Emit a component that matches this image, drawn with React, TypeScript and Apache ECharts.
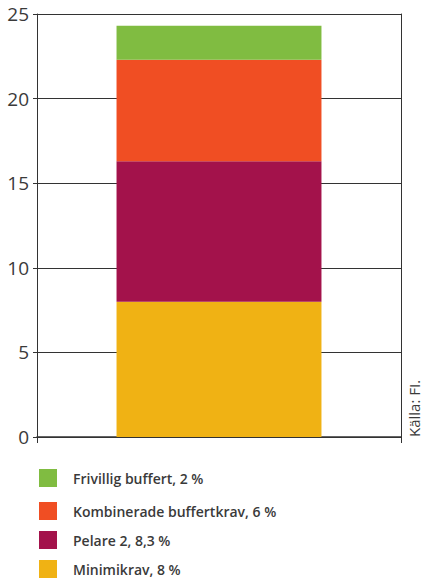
import React, { useEffect, useRef } from "react";
import * as echarts from "echarts";

const categories = [""];
const seriesNames = [
  "Minimikrav, 8 %",
  "Pelare 2, 8,3 %",
  "Kombinerade buffertkrav, 6 %",
  "Frivillig buffert, 2 %",
];
const seriesValues = [8, 8.3, 6, 2];
const seriesColors = ["#F0B214", "#A3124B", "#F04E23", "#80BC41"];
const yTicks = { min: 0, max: 25, interval: 5 };
const source = "Källa: FI.";

const FONT = "'Open Sans', 'Noto Sans', sans-serif";
const TEXT = "#3a3a3a";
const LINE = "#333333";

export default function App() {
  const ref = useRef<HTMLDivElement>(null);

  useEffect(() => {
    document.body.style.margin = "0";
    const chart = echarts.init(ref.current!, null, { renderer: "svg" });
    const legendText = {
      fontFamily: FONT,
      fontSize: 14,
      fontWeight: 600,
      color: TEXT,
      padding: [0, 0, 0, 11],
    };
    const legendBase = {
      orient: "vertical",
      left: 39,
      padding: 0,
      itemWidth: 18,
      itemHeight: 18,
      itemGap: 11,
      icon: "rect",
      selectedMode: false,
      textStyle: legendText,
    };
    chart.setOption({
      animation: false,
      textStyle: { fontFamily: FONT },
      grid: { left: 37, right: 23, top: 14, height: 423, containLabel: false },
      xAxis: {
        type: "category",
        data: categories,
        axisLine: { show: true, lineStyle: { color: LINE, width: 1.5 } },
        axisTick: { show: true, length: 6, lineStyle: { color: LINE } },
        axisLabel: { show: false },
      },
      yAxis: [
        {
          type: "value",
          min: yTicks.min,
          max: yTicks.max,
          interval: yTicks.interval,
          axisLine: { show: true, lineStyle: { color: LINE, width: 1 } },
          axisTick: { show: true, length: 4, lineStyle: { color: LINE } },
          axisLabel: { fontSize: 19, color: TEXT, margin: 8, fontFamily: FONT },
          splitLine: { show: true, lineStyle: { color: LINE, width: 1 } },
        },
        {
          type: "value",
          position: "right",
          min: yTicks.min,
          max: yTicks.max,
          interval: yTicks.interval,
          axisLine: { show: true, lineStyle: { color: LINE, width: 1 } },
          axisTick: { show: false },
          axisLabel: { show: false },
          splitLine: { show: false },
        },
      ],
      legend: [
        { ...legendBase, top: 469, data: [seriesNames[3]] },
        {
          ...legendBase,
          top: 502,
          data: [seriesNames[2], seriesNames[1], seriesNames[0]],
        },
      ],
      series: seriesNames.map((name, i) => ({
        name,
        type: "bar",
        stack: "total",
        barWidth: "56.3%",
        data: [seriesValues[i]],
        itemStyle: { color: seriesColors[i] },
      })),
      graphic: [
        {
          type: "text",
          x: 414,
          y: 437,
          rotation: Math.PI / 2,
          style: {
            text: source,
            fontFamily: FONT,
            fontSize: 15,
            fill: TEXT,
            textAlign: "left",
            textVerticalAlign: "middle",
          },
        },
      ],
    });
    return () => chart.dispose();
  }, []);

  return (
    <div
      ref={ref}
      style={{ position: "absolute", left: 0, top: 0, width: 424, height: 640 }}
    />
  );
}
